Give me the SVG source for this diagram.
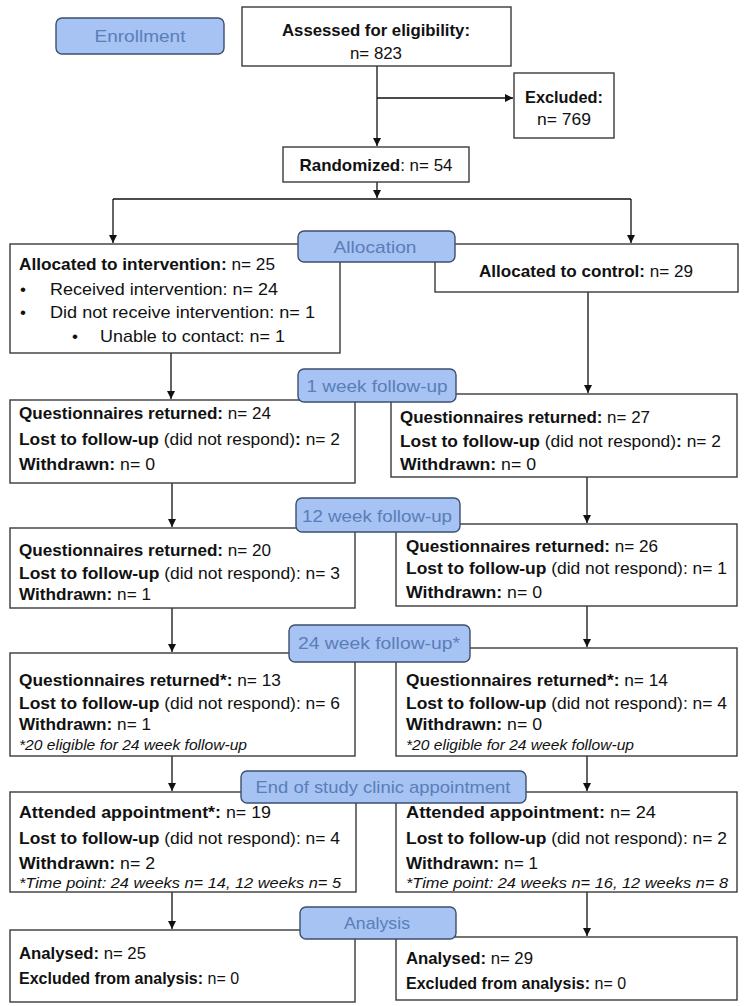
<svg xmlns="http://www.w3.org/2000/svg" width="748" height="1006" viewBox="0 0 748 1006">
<defs>
<marker id="ah" markerWidth="10" markerHeight="10" refX="8" refY="4" orient="auto" markerUnits="userSpaceOnUse">
<path d="M0,0 L8,4 L0,8 Z" fill="#111"/>
</marker>
<style>
.box{fill:#fff;stroke:#3a3a3a;stroke-width:1.4}
.pill{fill:#a6c3f3;stroke:#3d4f6e;stroke-width:1.4}
.pt{font-family:"Liberation Sans",Arial,sans-serif;font-size:17px;fill:#5b7db8;text-anchor:middle}
.t{font-family:"Liberation Sans",Arial,sans-serif;font-size:17px;fill:#111}
.ts{font-size:16px}
.tc{font-family:"Liberation Sans",Arial,sans-serif;font-size:17px;fill:#111;text-anchor:middle}
.n{font-family:"Liberation Sans",Arial,sans-serif;font-size:14px;font-style:italic;fill:#111}
.b{font-weight:bold}
.c{fill:none;stroke:#111;stroke-width:1.3}
.ca{fill:none;stroke:#111;stroke-width:1.3;marker-end:url(#ah)}
</style>
</defs>
<rect width="748" height="1006" fill="#fff"/>

<g id="connectors">
<path class="ca" d="M377,66 V146"/>
<path class="ca" d="M377,98 H513"/>
<path class="ca" d="M377,182 V198"/>
<path class="c" d="M113,199 H631"/>
<path class="ca" d="M113,199 V243"/>
<path class="ca" d="M631,199 V243"/>
<path class="ca" d="M171,353 V399"/>
<path class="ca" d="M588,292 V393"/>
<path class="ca" d="M172,483 V527"/>
<path class="ca" d="M587,477 V523"/>
<path class="ca" d="M172,608 V652"/>
<path class="ca" d="M587,606 V647"/>
<path class="ca" d="M172,756 V791"/>
<path class="ca" d="M587,756 V791"/>
<path class="ca" d="M172,892 V929"/>
<path class="ca" d="M587,892 V936"/>
</g>

<g id="assessed">
<rect class="box" x="242" y="7" width="269" height="59"/>
<text class="tc b" x="376" y="36" textLength="188" lengthAdjust="spacingAndGlyphs">Assessed for eligibility:</text>
<text class="tc" x="376" y="59" textLength="52" lengthAdjust="spacingAndGlyphs">n= 823</text>
</g>

<g id="excluded">
<rect class="box" x="514" y="73" width="100" height="65"/>
<text class="tc b" x="564" y="103" textLength="78" lengthAdjust="spacingAndGlyphs">Excluded:</text>
<text class="tc" x="564" y="125" textLength="54" lengthAdjust="spacingAndGlyphs">n= 769</text>
</g>

<g id="randomized">
<rect class="box" x="283" y="147" width="186" height="35"/>
<text class="tc" x="376" y="171" textLength="153" lengthAdjust="spacingAndGlyphs"><tspan class="b">Randomized</tspan>: n= 54</text>
</g>

<g id="intervention">
<rect class="box" x="10" y="244" width="330" height="109"/>
<text class="t" x="19" y="270" textLength="256" lengthAdjust="spacingAndGlyphs"><tspan class="b">Allocated to intervention:</tspan> n= 25</text>
<text class="t" x="20" y="295">•</text>
<text class="t" x="50" y="295" textLength="228" lengthAdjust="spacingAndGlyphs">Received intervention: n= 24</text>
<text class="t" x="20" y="318">•</text>
<text class="t" x="50" y="318" textLength="265" lengthAdjust="spacingAndGlyphs">Did not receive intervention: n= 1</text>
<text class="t" x="72" y="342">•</text>
<text class="t" x="100" y="342" textLength="185" lengthAdjust="spacingAndGlyphs">Unable to contact: n= 1</text>
</g>

<g id="control">
<rect class="box" x="435" y="244" width="303" height="48"/>
<text class="tc" x="586" y="277" textLength="214" lengthAdjust="spacingAndGlyphs"><tspan class="b">Allocated to control:</tspan> n= 29</text>
</g>

<g id="wk1-left">
<rect class="box" x="10" y="400" width="345" height="83"/>
<text class="t" x="19" y="419" textLength="252" lengthAdjust="spacingAndGlyphs"><tspan class="b">Questionnaires returned:</tspan> n= 24</text>
<text class="t" x="19" y="445" textLength="321" lengthAdjust="spacingAndGlyphs"><tspan class="b">Lost to follow-up</tspan> (did not respond)<tspan class="b">:</tspan> n= 2</text>
<text class="t" x="19" y="470" textLength="136" lengthAdjust="spacingAndGlyphs"><tspan class="b">Withdrawn:</tspan> n= 0</text>
</g>

<g id="wk1-right">
<rect class="box" x="391" y="394" width="346" height="83"/>
<text class="t" x="400" y="423" textLength="250" lengthAdjust="spacingAndGlyphs"><tspan class="b">Questionnaires returned:</tspan> n= 27</text>
<text class="t" x="400" y="447" textLength="321" lengthAdjust="spacingAndGlyphs"><tspan class="b">Lost to follow-up</tspan> (did not respond)<tspan class="b">:</tspan> n= 2</text>
<text class="t" x="400" y="470" textLength="136" lengthAdjust="spacingAndGlyphs"><tspan class="b">Withdrawn:</tspan> n= 0</text>
</g>

<g id="wk12-left">
<rect class="box" x="10" y="528" width="345" height="80"/>
<text class="t" x="19" y="556" textLength="252" lengthAdjust="spacingAndGlyphs"><tspan class="b">Questionnaires returned:</tspan> n= 20</text>
<text class="t" x="19" y="579" textLength="321" lengthAdjust="spacingAndGlyphs"><tspan class="b">Lost to follow-up</tspan> (did not respond): n= 3</text>
<text class="t" x="19" y="600" textLength="132" lengthAdjust="spacingAndGlyphs"><tspan class="b">Withdrawn:</tspan> n= 1</text>
</g>

<g id="wk12-right">
<rect class="box" x="396" y="524" width="341" height="82"/>
<text class="t" x="406" y="552" textLength="252" lengthAdjust="spacingAndGlyphs"><tspan class="b">Questionnaires returned:</tspan> n= 26</text>
<text class="t" x="406" y="574" textLength="321" lengthAdjust="spacingAndGlyphs"><tspan class="b">Lost to follow-up</tspan> (did not respond): n= 1</text>
<text class="t" x="406" y="598" textLength="136" lengthAdjust="spacingAndGlyphs"><tspan class="b">Withdrawn:</tspan> n= 0</text>
</g>

<g id="wk24-left">
<rect class="box" x="10" y="653" width="345" height="103"/>
<text class="t" x="19" y="686" textLength="262" lengthAdjust="spacingAndGlyphs"><tspan class="b">Questionnaires returned*:</tspan> n= 13</text>
<text class="t" x="19" y="709" textLength="321" lengthAdjust="spacingAndGlyphs"><tspan class="b">Lost to follow-up</tspan> (did not respond): n= 6</text>
<text class="t" x="19" y="730" textLength="132" lengthAdjust="spacingAndGlyphs"><tspan class="b">Withdrawn:</tspan> n= 1</text>
<text class="n" x="19" y="750" textLength="228" lengthAdjust="spacingAndGlyphs">*20 eligible for 24 week follow-up</text>
</g>

<g id="wk24-right">
<rect class="box" x="396" y="648" width="341" height="108"/>
<text class="t" x="406" y="686" textLength="262" lengthAdjust="spacingAndGlyphs"><tspan class="b">Questionnaires returned*:</tspan> n= 14</text>
<text class="t" x="406" y="709" textLength="321" lengthAdjust="spacingAndGlyphs"><tspan class="b">Lost to follow-up</tspan> (did not respond): n= 4</text>
<text class="t" x="406" y="730" textLength="136" lengthAdjust="spacingAndGlyphs"><tspan class="b">Withdrawn:</tspan> n= 0</text>
<text class="n" x="406" y="750" textLength="228" lengthAdjust="spacingAndGlyphs">*20 eligible for 24 week follow-up</text>
</g>

<g id="end-left">
<rect class="box" x="10" y="792" width="346" height="100"/>
<text class="t" x="19" y="818" textLength="252" lengthAdjust="spacingAndGlyphs"><tspan class="b">Attended appointment*:</tspan> n= 19</text>
<text class="t" x="19" y="844" textLength="321" lengthAdjust="spacingAndGlyphs"><tspan class="b">Lost to follow-up</tspan> (did not respond): n= 4</text>
<text class="t" x="19" y="869" textLength="136" lengthAdjust="spacingAndGlyphs"><tspan class="b">Withdrawn:</tspan> n= 2</text>
<text class="n" x="19" y="888" textLength="322" lengthAdjust="spacingAndGlyphs">*Time point: 24 weeks n= 14, 12 weeks n= 5</text>
</g>

<g id="end-right">
<rect class="box" x="396" y="792" width="341" height="100"/>
<text class="t" x="406" y="818" textLength="250" lengthAdjust="spacingAndGlyphs"><tspan class="b">Attended appointment:</tspan> n= 24</text>
<text class="t" x="406" y="844" textLength="321" lengthAdjust="spacingAndGlyphs"><tspan class="b">Lost to follow-up</tspan> (did not respond): n= 2</text>
<text class="t" x="406" y="869" textLength="132" lengthAdjust="spacingAndGlyphs"><tspan class="b">Withdrawn:</tspan> n= 1</text>
<text class="n" x="406" y="888" textLength="322" lengthAdjust="spacingAndGlyphs">*Time point: 24 weeks n= 16, 12 weeks n= 8</text>
</g>

<g id="analysis-left">
<rect class="box" x="10" y="930" width="345" height="72"/>
<text class="t" x="19" y="959" textLength="127" lengthAdjust="spacingAndGlyphs"><tspan class="b">Analysed:</tspan> n= 25</text>
<text class="t ts" x="19" y="984"><tspan class="b">Excluded from analysis:</tspan> n= 0</text>
</g>

<g id="analysis-right">
<rect class="box" x="396" y="937" width="341" height="63"/>
<text class="t" x="406" y="964" textLength="127" lengthAdjust="spacingAndGlyphs"><tspan class="b">Analysed:</tspan> n= 29</text>
<text class="t ts" x="406" y="989"><tspan class="b">Excluded from analysis:</tspan> n= 0</text>
</g>

<g id="pill-enrollment">
<rect class="pill" x="56" y="18" width="168" height="36" rx="6"/>
<text class="pt" x="140" y="42" textLength="91" lengthAdjust="spacingAndGlyphs">Enrollment</text>
</g>
<g id="pill-allocation">
<rect class="pill" x="298" y="231" width="157" height="31" rx="6"/>
<text class="pt" x="375" y="253" textLength="83" lengthAdjust="spacingAndGlyphs">Allocation</text>
</g>
<g id="pill-1week">
<rect class="pill" x="298" y="369" width="158" height="33" rx="6"/>
<text class="pt" x="377" y="392" textLength="141" lengthAdjust="spacingAndGlyphs">1 week follow-up</text>
</g>
<g id="pill-12week">
<rect class="pill" x="296" y="498" width="164" height="34" rx="6"/>
<text class="pt" x="377" y="522" textLength="150" lengthAdjust="spacingAndGlyphs">12 week follow-up</text>
</g>
<g id="pill-24week">
<rect class="pill" x="289" y="625" width="181" height="37" rx="6"/>
<text class="pt" x="379" y="649" textLength="162" lengthAdjust="spacingAndGlyphs">24 week follow-up*</text>
</g>
<g id="pill-end">
<rect class="pill" x="241" y="771" width="285" height="32" rx="6"/>
<text class="pt" x="383" y="793" textLength="255" lengthAdjust="spacingAndGlyphs">End of study clinic appointment</text>
</g>
<g id="pill-analysis">
<rect class="pill" x="300" y="907" width="156" height="32" rx="6"/>
<text class="pt" x="377" y="929" textLength="66" lengthAdjust="spacingAndGlyphs">Analysis</text>
</g>
</svg>
